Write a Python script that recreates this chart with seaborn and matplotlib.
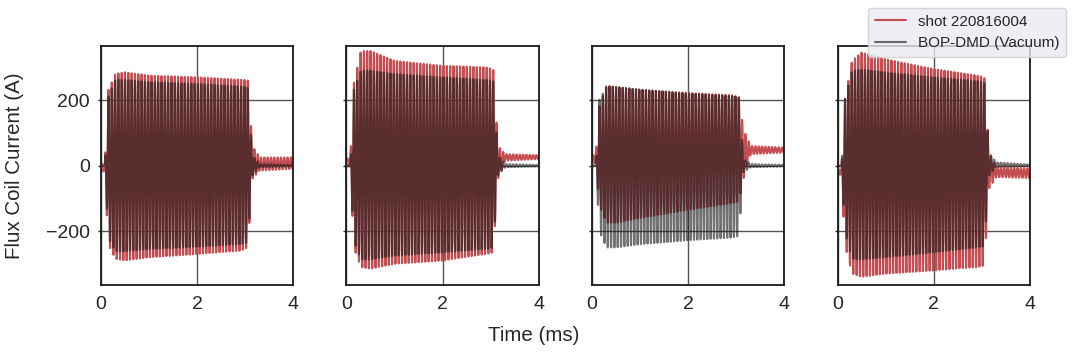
import numpy as np
import pandas as pd
import seaborn as sns
import matplotlib.pyplot as plt

sns.set_theme(style='white')
plt.rcParams['font.family'] = ['Liberation Sans', 'DejaVu Sans']

# envelope knots (time in ms, current in A)
t_knots = [0, 0.08, 0.15, 0.3, 0.5, 1.0, 2.0, 2.9, 3.05, 3.15, 3.3, 4.0]

shot_upper = [
    [5, 10, 230, 280, 285, 275, 270, 262, 262, 60, 25, 25],
    [20, 30, 250, 350, 350, 320, 305, 300, 295, 60, 35, 32],
    [30, 40, 180, 245, 240, 232, 222, 215, 210, 110, 60, 55],
    [-10, -10, 200, 320, 345, 325, 295, 275, 270, 40, -5, -8],
]
shot_lower = [
    [-15, -20, -240, -285, -290, -280, -270, -260, -250, -40, -15, -10],
    [10, -10, -250, -310, -315, -300, -290, -270, -265, -40, 15, 20],
    [20, 0, -120, -175, -175, -160, -135, -115, -110, -40, 35, 40],
    [-25, -30, -240, -330, -340, -330, -320, -310, -305, -70, -35, -38],
]
model_upper = [
    [0, 0, 210, 262, 262, 255, 250, 242, 240, 30, 5, 2],
    [0, 0, 230, 290, 290, 280, 270, 262, 260, 30, 5, 2],
    [0, 0, 200, 240, 240, 232, 220, 212, 210, 20, 5, 2],
    [0, 0, 200, 290, 293, 285, 270, 258, 255, 40, 10, 3],
]
model_lower = [
    [0, 0, -220, -262, -262, -255, -248, -240, -235, -30, -5, -2],
    [0, 0, -230, -287, -287, -275, -265, -255, -250, -30, -5, -2],
    [0, 0, -200, -250, -250, -240, -228, -220, -215, -20, -5, -2],
    [0, 0, -200, -285, -287, -280, -265, -250, -247, -30, -3, -1],
]
drive_freq = 14.5  # cycles per ms, counted from the picture

t = np.linspace(0, 4, 4001)
carrier = np.sin(2 * np.pi * drive_freq * t)


def signal(upper, lower):
    u = np.interp(t, t_knots, upper)
    l = np.interp(t, t_knots, lower)
    return (u + l) / 2 + (u - l) / 2 * carrier


fig, axes = plt.subplots(1, 4, figsize=(10.74, 3.52), dpi=100, sharey=True)
fig.subplots_adjust(left=0.094, right=0.959, bottom=0.19, top=0.869, wspace=0.276)

for i, ax in enumerate(axes):
    df = pd.DataFrame({
        'Time': np.concatenate([t, t]),
        'Current': np.concatenate([signal(shot_upper[i], shot_lower[i]),
                                   signal(model_upper[i], model_lower[i])]),
        'src': ['shot 220816004'] * len(t) + ['BOP-DMD (Vacuum)'] * len(t),
    })
    sns.lineplot(data=df[df.src == 'shot 220816004'], x='Time', y='Current', ax=ax,
                 color='#C44E52', lw=1.5, estimator=None, label='shot 220816004')
    sns.lineplot(data=df[df.src == 'BOP-DMD (Vacuum)'], x='Time', y='Current', ax=ax,
                 color='k', alpha=0.62, lw=1.5, estimator=None, label='BOP-DMD (Vacuum)')
    ax.set_xlim(0, 4)
    ax.set_ylim(-365, 365)
    ax.set_xticks([0, 2, 4])
    ax.set_yticks([-200, 0, 200])
    ax.grid(True, color='#555555', lw=1)
    ax.set_xlabel('')
    ax.set_ylabel('')
    ax.tick_params(labelsize=14, length=2, width=1, pad=6, left=True, bottom=False, colors='#262626')
    for s in ax.spines.values():
        s.set_color('k')
        s.set_linewidth(1.3)
    ax.get_legend().remove()

axes[0].set_ylabel('Flux Coil Current (A)', fontsize=14.8)
axes[0].yaxis.set_label_coords(-0.40, 0.5)
fig.text(0.497, 0.03, 'Time (ms)', ha='center', fontsize=14.8, color='#262626')

handles, labels = axes[0].get_legend_handles_labels()
leg = fig.legend(handles, labels, loc='upper right', bbox_to_anchor=(1.0, 1.0),
                 fontsize=11, frameon=True, facecolor='#EAEAF2', edgecolor='#CCCCCC',
                 handlelength=2.0, handletextpad=0.8, labelspacing=0.5, borderpad=0.45)

fig.savefig('out.png', dpi=100)
